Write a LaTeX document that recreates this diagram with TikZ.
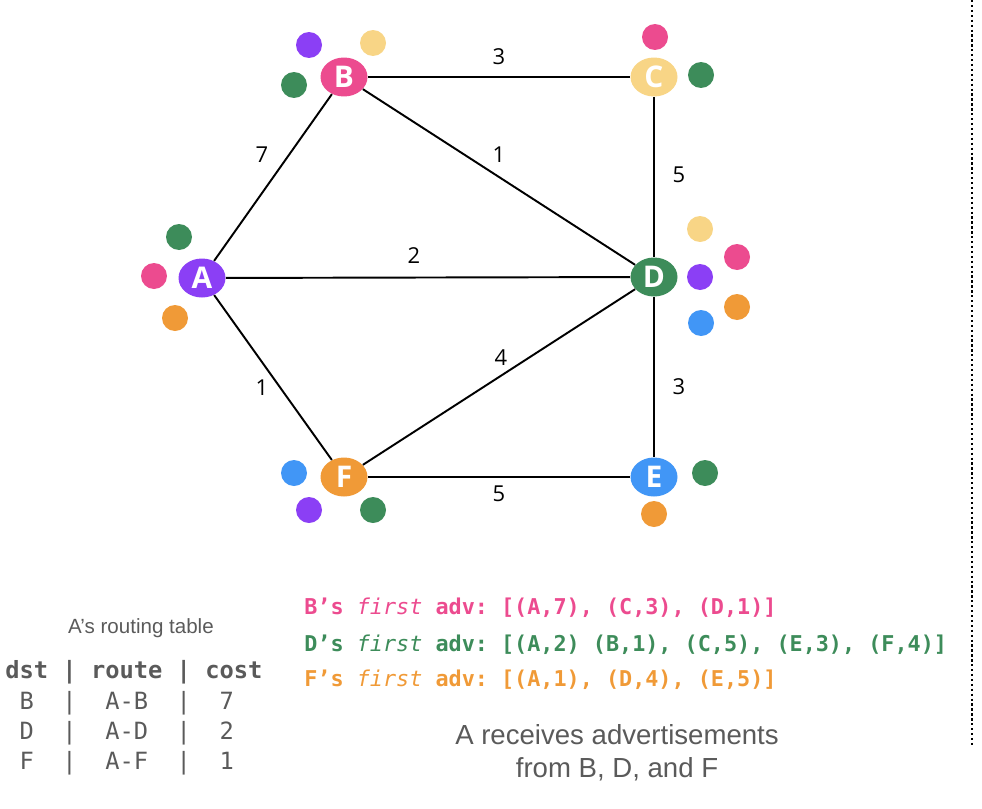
\documentclass[tikz,border=0pt]{standalone}
\usepackage{fontspec}
\setmainfont{Open Sans}
\setmonofont{DejaVu Sans Mono}
\newfontfamily\capfont{Liberation Sans}
\usepackage{tikz}
\usetikzlibrary{shapes.geometric}

\definecolor{apurple}{HTML}{8B3FF5}
\definecolor{bpink}{HTML}{EC4B8F}
\definecolor{cyellow}{HTML}{F8D586}
\definecolor{dgreen}{HTML}{3D8C5A}
\definecolor{eblue}{HTML}{4196F6}
\definecolor{forange}{HTML}{F09A37}
\definecolor{txtgray}{HTML}{5A5A5A}

\begin{document}
\begin{tikzpicture}[
        x=0.02cm, y=-0.02cm,
        router/.style={ellipse, minimum width=0.94cm, minimum height=0.78cm, inner sep=0pt, text=white, font=\fontsize{17}{17}\selectfont\bfseries},
        link/.style={line width=1.1pt},
        cost/.style={midway, inner sep=0pt, font=\fontsize{12.5}{12.5}\selectfont},
        adv/.style={anchor=west, inner sep=0pt, font=\ttfamily\bfseries\fontsize{12.4}{12.4}\selectfont},
        tbl/.style={anchor=west, inner sep=0pt, text=txtgray, font=\ttfamily\fontsize{13.5}{13.5}\selectfont}
    ]
        \useasboundingbox (0,0) rectangle (982,808);

        \node (A) [router, fill=apurple] at (202,278) {A};
        \node (B) [router, fill=bpink] at (344,77) {B};
        \node (C) [router, fill=cyellow] at (654,77) {C};
        \node (D) [router, fill=dgreen] at (654,277) {D};
        \node (E) [router, fill=eblue] at (654,477) {E};
        \node (F) [router, fill=forange] at (344,477) {F};

        \draw[link] (B) -- node[cost, shift={(0,-20)}] {3} (C);
        \draw[link] (B) -- node[cost, shift={(0,-22)}] {1} (D);
        \draw[link] (A) -- node[cost, shift={(-11,-23)}] {7} (B);
        \draw[link] (C) -- node[cost, shift={(25,-2)}] {5} (D);
        \draw[link] (A) -- node[cost, shift={(-14,-22)}] {2} (D);
        \draw[link] (F) -- node[cost, shift={(2,-19)}] {4} (D);
        \draw[link] (A) -- node[cost, shift={(-11,10)}] {1} (F);
        \draw[link] (D) -- node[cost, shift={(25,10)}] {3} (E);
        \draw[link] (F) -- node[cost, shift={(0,17)}] {5} (E);

        \foreach \px/\py/\col in {309/45/apurple, 373/43/cyellow, 294/85/dgreen,
                655/37/bpink, 701/75/dgreen,
                179/237/dgreen, 154/276/bpink, 175/318/forange,
                700/229/cyellow, 737/257/bpink, 700/277/apurple, 737/307/forange, 701/323/eblue,
                294/473/eblue, 309/510/apurple, 373/510/dgreen,
                705/473/dgreen, 654/514/forange}
            \fill[\col] (\px,\py) circle (0.26cm);

        \node (advB) [adv, text=bpink] at (304,608) {B’s \mdseries\itshape first\upshape\bfseries{} adv: [(A,7), (C,3), (D,1)]};
        \node (advD) [adv, text=dgreen] at (304,645) {D’s \mdseries\itshape first\upshape\bfseries{} adv: [(A,2) (B,1), (C,5), (E,3), (F,4)]};
        \node (advF) [adv, text=forange] at (304,680) {F’s \mdseries\itshape first\upshape\bfseries{} adv: [(A,1), (D,4), (E,5)]};

        \node (title) [text=txtgray, font=\capfont\fontsize{11.7}{11.7}\selectfont] at (141,628) {A’s routing table};
        \node (hdr) [tbl, font=\ttfamily\bfseries\fontsize{13.5}{13.5}\selectfont] at (5,672) {dst~|~route~|~cost};
        \node (rowB) [tbl] at (5,703) {~B~~|~~A-B~~|~~7};
        \node (rowD) [tbl] at (5,733) {~D~~|~~A-D~~|~~2};
        \node (rowF) [tbl] at (5,763) {~F~~|~~A-F~~|~~1};

        \node (note) [text=txtgray, align=center, font=\capfont\fontsize{15.7}{18.7}\selectfont] at (617,753) {A receives advertisements\\from B, D, and F};

        \coordinate (top) at (972,0);
        \coordinate (bot) at (972,745);
        \draw[line width=1.3pt, dash pattern=on 1.3pt off 1.5pt] (top) -- (bot);
    \end{tikzpicture}
\end{document}
